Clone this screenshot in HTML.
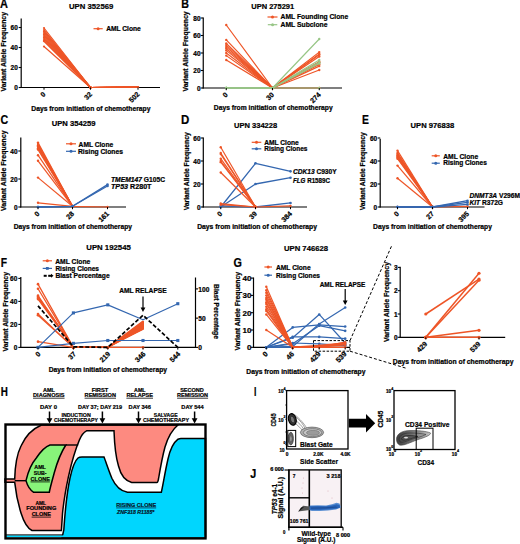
<!DOCTYPE html><html><head><meta charset="utf-8"><style>html,body{margin:0;padding:0;background:#fff;width:520px;height:544px;overflow:hidden;}svg{display:block;}text{font-family:"Liberation Sans", sans-serif;stroke:#000;stroke-width:0.22px;}</style></head><body>
<svg width="520" height="544" viewBox="0 0 520 544">
<rect width="520" height="544" fill="#fff"/>
<text x="0.00" y="8.30" font-size="12.5" font-weight="bold" fill="#000" textLength="7.90" lengthAdjust="spacingAndGlyphs" >A</text>
<text x="69.00" y="9.00" font-size="8" font-weight="bold" fill="#000" textLength="44.30" lengthAdjust="spacingAndGlyphs" >UPN 352569</text>
<text x="4.00" y="54.06" font-size="6.6" font-weight="bold" text-anchor="middle" textLength="79.50" lengthAdjust="spacingAndGlyphs" transform="rotate(-90 4.00 51.75)">Variant  Allele Frequency</text>
<line x1="21.20" y1="18.50" x2="21.20" y2="88.10" stroke="#000" stroke-width="1.2" />
<line x1="20.60" y1="87.50" x2="160.00" y2="87.50" stroke="#000" stroke-width="1.2" />
<line x1="18.70" y1="27.50" x2="21.20" y2="27.50" stroke="#000" stroke-width="1.08" />
<text x="17.80" y="30.04" font-size="6.5" font-weight="bold" fill="#000" text-anchor="end">60</text>
<line x1="18.70" y1="47.50" x2="21.20" y2="47.50" stroke="#000" stroke-width="1.08" />
<text x="17.80" y="50.04" font-size="6.5" font-weight="bold" fill="#000" text-anchor="end">40</text>
<line x1="18.70" y1="67.50" x2="21.20" y2="67.50" stroke="#000" stroke-width="1.08" />
<text x="17.80" y="70.04" font-size="6.5" font-weight="bold" fill="#000" text-anchor="end">20</text>
<line x1="18.70" y1="87.50" x2="21.20" y2="87.50" stroke="#000" stroke-width="1.08" />
<text x="17.80" y="90.04" font-size="6.5" font-weight="bold" fill="#000" text-anchor="end">0</text>
<polyline points="44.00,28.00 90.50,87.50 138.00,87.00" fill="none" stroke="#EE5527" stroke-width="1.2" stroke-linejoin="round" />
<circle cx="44.00" cy="28.00" r="1.1" fill="#EE5527"/>
<circle cx="90.50" cy="87.50" r="1.1" fill="#EE5527"/>
<circle cx="138.00" cy="87.00" r="1.1" fill="#EE5527"/>
<polyline points="44.00,30.00 90.50,87.50 138.00,87.00" fill="none" stroke="#EE5527" stroke-width="1.2" stroke-linejoin="round" />
<circle cx="44.00" cy="30.00" r="1.1" fill="#EE5527"/>
<circle cx="90.50" cy="87.50" r="1.1" fill="#EE5527"/>
<circle cx="138.00" cy="87.00" r="1.1" fill="#EE5527"/>
<polyline points="44.00,31.50 90.50,87.50 138.00,87.00" fill="none" stroke="#EE5527" stroke-width="1.2" stroke-linejoin="round" />
<circle cx="44.00" cy="31.50" r="1.1" fill="#EE5527"/>
<circle cx="90.50" cy="87.50" r="1.1" fill="#EE5527"/>
<circle cx="138.00" cy="87.00" r="1.1" fill="#EE5527"/>
<polyline points="44.00,33.00 90.50,87.50 138.00,87.00" fill="none" stroke="#EE5527" stroke-width="1.2" stroke-linejoin="round" />
<circle cx="44.00" cy="33.00" r="1.1" fill="#EE5527"/>
<circle cx="90.50" cy="87.50" r="1.1" fill="#EE5527"/>
<circle cx="138.00" cy="87.00" r="1.1" fill="#EE5527"/>
<polyline points="44.00,34.50 90.50,87.50 138.00,87.00" fill="none" stroke="#EE5527" stroke-width="1.2" stroke-linejoin="round" />
<circle cx="44.00" cy="34.50" r="1.1" fill="#EE5527"/>
<circle cx="90.50" cy="87.50" r="1.1" fill="#EE5527"/>
<circle cx="138.00" cy="87.00" r="1.1" fill="#EE5527"/>
<polyline points="44.00,36.00 90.50,87.50 138.00,87.00" fill="none" stroke="#EE5527" stroke-width="1.2" stroke-linejoin="round" />
<circle cx="44.00" cy="36.00" r="1.1" fill="#EE5527"/>
<circle cx="90.50" cy="87.50" r="1.1" fill="#EE5527"/>
<circle cx="138.00" cy="87.00" r="1.1" fill="#EE5527"/>
<polyline points="44.00,37.50 90.50,87.50 138.00,87.00" fill="none" stroke="#EE5527" stroke-width="1.2" stroke-linejoin="round" />
<circle cx="44.00" cy="37.50" r="1.1" fill="#EE5527"/>
<circle cx="90.50" cy="87.50" r="1.1" fill="#EE5527"/>
<circle cx="138.00" cy="87.00" r="1.1" fill="#EE5527"/>
<polyline points="44.00,39.00 90.50,87.50 138.00,87.00" fill="none" stroke="#EE5527" stroke-width="1.2" stroke-linejoin="round" />
<circle cx="44.00" cy="39.00" r="1.1" fill="#EE5527"/>
<circle cx="90.50" cy="87.50" r="1.1" fill="#EE5527"/>
<circle cx="138.00" cy="87.00" r="1.1" fill="#EE5527"/>
<polyline points="44.00,40.50 90.50,87.50 138.00,87.00" fill="none" stroke="#EE5527" stroke-width="1.2" stroke-linejoin="round" />
<circle cx="44.00" cy="40.50" r="1.1" fill="#EE5527"/>
<circle cx="90.50" cy="87.50" r="1.1" fill="#EE5527"/>
<circle cx="138.00" cy="87.00" r="1.1" fill="#EE5527"/>
<polyline points="44.00,41.20 90.50,87.50 138.00,87.00" fill="none" stroke="#EE5527" stroke-width="1.2" stroke-linejoin="round" />
<circle cx="44.00" cy="41.20" r="1.1" fill="#EE5527"/>
<circle cx="90.50" cy="87.50" r="1.1" fill="#EE5527"/>
<circle cx="138.00" cy="87.00" r="1.1" fill="#EE5527"/>
<polyline points="44.00,46.50 90.50,87.50 138.00,87.00" fill="none" stroke="#EE5527" stroke-width="1.2" stroke-linejoin="round" />
<circle cx="44.00" cy="46.50" r="1.1" fill="#EE5527"/>
<circle cx="90.50" cy="87.50" r="1.1" fill="#EE5527"/>
<circle cx="138.00" cy="87.00" r="1.1" fill="#EE5527"/>
<text x="46.00" y="94.70" font-size="7" font-weight="bold" text-anchor="end" transform="rotate(-45 46.00 94.70)">0</text>
<line x1="44.00" y1="87.50" x2="44.00" y2="89.70" stroke="#000" stroke-width="1" />
<text x="92.50" y="94.70" font-size="7" font-weight="bold" text-anchor="end" transform="rotate(-45 92.50 94.70)">32</text>
<line x1="90.50" y1="87.50" x2="90.50" y2="89.70" stroke="#000" stroke-width="1" />
<text x="140.00" y="94.70" font-size="7" font-weight="bold" text-anchor="end" transform="rotate(-45 140.00 94.70)">502</text>
<line x1="138.00" y1="87.50" x2="138.00" y2="89.70" stroke="#000" stroke-width="1" />
<text x="31.30" y="110.50" font-size="6.6" font-weight="bold" fill="#000" textLength="119.20" lengthAdjust="spacingAndGlyphs" >Days from initiation of chemotherapy</text>
<line x1="93.50" y1="28.70" x2="102.70" y2="28.70" stroke="#EE5527" stroke-width="1.2" />
<circle cx="98.10" cy="28.70" r="1.5" fill="#EE5527"/>
<text x="106.20" y="31.30" font-size="6.8" font-weight="bold" fill="#000" textLength="34.60" lengthAdjust="spacingAndGlyphs" >AML Clone</text>
<text x="181.30" y="8.40" font-size="12.5" font-weight="bold" fill="#000" textLength="7.70" lengthAdjust="spacingAndGlyphs" >B</text>
<text x="251.30" y="9.00" font-size="8" font-weight="bold" fill="#000" textLength="42.90" lengthAdjust="spacingAndGlyphs" >UPN 275291</text>
<text x="186.10" y="53.71" font-size="6.6" font-weight="bold" text-anchor="middle" textLength="80.20" lengthAdjust="spacingAndGlyphs" transform="rotate(-90 186.10 51.40)">Variant  Allele Frequency</text>
<line x1="203.25" y1="17.50" x2="203.25" y2="88.60" stroke="#000" stroke-width="1.2" />
<line x1="202.65" y1="88.00" x2="342.00" y2="88.00" stroke="#000" stroke-width="1.2" />
<line x1="200.75" y1="18.00" x2="203.25" y2="18.00" stroke="#000" stroke-width="1.08" />
<text x="200.50" y="20.54" font-size="6.5" font-weight="bold" fill="#000" text-anchor="end">80</text>
<line x1="200.75" y1="35.50" x2="203.25" y2="35.50" stroke="#000" stroke-width="1.08" />
<text x="200.50" y="38.04" font-size="6.5" font-weight="bold" fill="#000" text-anchor="end">60</text>
<line x1="200.75" y1="53.00" x2="203.25" y2="53.00" stroke="#000" stroke-width="1.08" />
<text x="200.50" y="55.54" font-size="6.5" font-weight="bold" fill="#000" text-anchor="end">40</text>
<line x1="200.75" y1="70.50" x2="203.25" y2="70.50" stroke="#000" stroke-width="1.08" />
<text x="200.50" y="73.04" font-size="6.5" font-weight="bold" fill="#000" text-anchor="end">20</text>
<line x1="200.75" y1="88.00" x2="203.25" y2="88.00" stroke="#000" stroke-width="1.08" />
<text x="200.50" y="90.54" font-size="6.5" font-weight="bold" fill="#000" text-anchor="end">0</text>
<polyline points="226.25,25.00 272.50,88.00 319.25,52.12" fill="none" stroke="#EE5527" stroke-width="1.2" stroke-linejoin="round" />
<circle cx="226.25" cy="25.00" r="1.2" fill="#EE5527"/>
<circle cx="272.50" cy="88.00" r="1.2" fill="#EE5527"/>
<circle cx="319.25" cy="52.12" r="1.2" fill="#EE5527"/>
<polyline points="226.25,39.88 272.50,88.00 319.25,53.88" fill="none" stroke="#EE5527" stroke-width="1.2" stroke-linejoin="round" />
<circle cx="226.25" cy="39.88" r="1.2" fill="#EE5527"/>
<circle cx="272.50" cy="88.00" r="1.2" fill="#EE5527"/>
<circle cx="319.25" cy="53.88" r="1.2" fill="#EE5527"/>
<polyline points="226.25,43.38 272.50,88.00 319.25,54.75" fill="none" stroke="#EE5527" stroke-width="1.2" stroke-linejoin="round" />
<circle cx="226.25" cy="43.38" r="1.2" fill="#EE5527"/>
<circle cx="272.50" cy="88.00" r="1.2" fill="#EE5527"/>
<circle cx="319.25" cy="54.75" r="1.2" fill="#EE5527"/>
<polyline points="226.25,45.12 272.50,88.00 319.25,56.50" fill="none" stroke="#EE5527" stroke-width="1.2" stroke-linejoin="round" />
<circle cx="226.25" cy="45.12" r="1.2" fill="#EE5527"/>
<circle cx="272.50" cy="88.00" r="1.2" fill="#EE5527"/>
<circle cx="319.25" cy="56.50" r="1.2" fill="#EE5527"/>
<polyline points="226.25,46.88 272.50,88.00 319.25,61.75" fill="none" stroke="#EE5527" stroke-width="1.2" stroke-linejoin="round" />
<circle cx="226.25" cy="46.88" r="1.2" fill="#EE5527"/>
<circle cx="272.50" cy="88.00" r="1.2" fill="#EE5527"/>
<circle cx="319.25" cy="61.75" r="1.2" fill="#EE5527"/>
<polyline points="226.25,48.62 272.50,88.00 319.25,62.62" fill="none" stroke="#EE5527" stroke-width="1.2" stroke-linejoin="round" />
<circle cx="226.25" cy="48.62" r="1.2" fill="#EE5527"/>
<circle cx="272.50" cy="88.00" r="1.2" fill="#EE5527"/>
<circle cx="319.25" cy="62.62" r="1.2" fill="#EE5527"/>
<polyline points="226.25,50.38 272.50,88.00 319.25,64.38" fill="none" stroke="#EE5527" stroke-width="1.2" stroke-linejoin="round" />
<circle cx="226.25" cy="50.38" r="1.2" fill="#EE5527"/>
<circle cx="272.50" cy="88.00" r="1.2" fill="#EE5527"/>
<circle cx="319.25" cy="64.38" r="1.2" fill="#EE5527"/>
<polyline points="226.25,53.00 272.50,88.00 319.25,66.12" fill="none" stroke="#EE5527" stroke-width="1.2" stroke-linejoin="round" />
<circle cx="226.25" cy="53.00" r="1.2" fill="#EE5527"/>
<circle cx="272.50" cy="88.00" r="1.2" fill="#EE5527"/>
<circle cx="319.25" cy="66.12" r="1.2" fill="#EE5527"/>
<polyline points="226.25,55.62 272.50,88.00 319.25,70.06" fill="none" stroke="#EE5527" stroke-width="1.2" stroke-linejoin="round" />
<circle cx="226.25" cy="55.62" r="1.2" fill="#EE5527"/>
<circle cx="272.50" cy="88.00" r="1.2" fill="#EE5527"/>
<circle cx="319.25" cy="70.06" r="1.2" fill="#EE5527"/>
<polyline points="226.25,60.00 272.50,88.00 319.25,88.00" fill="none" stroke="#EE5527" stroke-width="1.2" stroke-linejoin="round" />
<circle cx="226.25" cy="60.00" r="1.2" fill="#EE5527"/>
<circle cx="272.50" cy="88.00" r="1.2" fill="#EE5527"/>
<circle cx="319.25" cy="88.00" r="1.2" fill="#EE5527"/>
<polyline points="226.25,88.00 272.50,88.00 319.25,39.00" fill="none" stroke="#98C687" stroke-width="1.2" stroke-linejoin="round" />
<circle cx="226.25" cy="88.00" r="1.2" fill="#98C687"/>
<circle cx="272.50" cy="88.00" r="1.2" fill="#98C687"/>
<circle cx="319.25" cy="39.00" r="1.2" fill="#98C687"/>
<polyline points="226.25,88.00 272.50,88.00 319.25,60.00" fill="none" stroke="#98C687" stroke-width="1.2" stroke-linejoin="round" />
<circle cx="226.25" cy="88.00" r="1.2" fill="#98C687"/>
<circle cx="272.50" cy="88.00" r="1.2" fill="#98C687"/>
<circle cx="319.25" cy="60.00" r="1.2" fill="#98C687"/>
<polyline points="226.25,88.00 272.50,88.00 319.25,62.19" fill="none" stroke="#98C687" stroke-width="1.2" stroke-linejoin="round" />
<circle cx="226.25" cy="88.00" r="1.2" fill="#98C687"/>
<circle cx="272.50" cy="88.00" r="1.2" fill="#98C687"/>
<circle cx="319.25" cy="62.19" r="1.2" fill="#98C687"/>
<polyline points="226.25,88.00 272.50,88.00 319.25,63.50" fill="none" stroke="#98C687" stroke-width="1.2" stroke-linejoin="round" />
<circle cx="226.25" cy="88.00" r="1.2" fill="#98C687"/>
<circle cx="272.50" cy="88.00" r="1.2" fill="#98C687"/>
<circle cx="319.25" cy="63.50" r="1.2" fill="#98C687"/>
<polyline points="226.25,88.00 272.50,88.00 319.25,88.00" fill="none" stroke="#98C687" stroke-width="1.2" stroke-linejoin="round" />
<circle cx="226.25" cy="88.00" r="1.2" fill="#98C687"/>
<circle cx="272.50" cy="88.00" r="1.2" fill="#98C687"/>
<circle cx="319.25" cy="88.00" r="1.2" fill="#98C687"/>
<text x="228.25" y="95.20" font-size="7" font-weight="bold" text-anchor="end" transform="rotate(-45 228.25 95.20)">0</text>
<line x1="226.25" y1="88.00" x2="226.25" y2="90.20" stroke="#000" stroke-width="1" />
<text x="274.50" y="95.20" font-size="7" font-weight="bold" text-anchor="end" transform="rotate(-45 274.50 95.20)">30</text>
<line x1="272.50" y1="88.00" x2="272.50" y2="90.20" stroke="#000" stroke-width="1" />
<text x="321.25" y="95.20" font-size="7" font-weight="bold" text-anchor="end" transform="rotate(-45 321.25 95.20)">274</text>
<line x1="319.25" y1="88.00" x2="319.25" y2="90.20" stroke="#000" stroke-width="1" />
<text x="213.80" y="109.80" font-size="6.6" font-weight="bold" fill="#000" textLength="118.90" lengthAdjust="spacingAndGlyphs" >Days from initiation of chemotherapy</text>
<line x1="267.50" y1="17.00" x2="277.50" y2="17.00" stroke="#EE5527" stroke-width="1.2" />
<circle cx="272.50" cy="17.00" r="1.5" fill="#EE5527"/>
<text x="280.60" y="19.00" font-size="7" font-weight="bold" fill="#000" textLength="67.60" lengthAdjust="spacingAndGlyphs" >AML Founding Clone</text>
<line x1="267.80" y1="24.70" x2="277.30" y2="24.70" stroke="#98C687" stroke-width="1.2" />
<circle cx="272.55" cy="24.70" r="1.5" fill="#98C687"/>
<text x="280.60" y="26.80" font-size="7" font-weight="bold" fill="#000" textLength="46.90" lengthAdjust="spacingAndGlyphs" >AML Subclone</text>
<text x="0.60" y="124.30" font-size="12.5" font-weight="bold" fill="#000" textLength="7.70" lengthAdjust="spacingAndGlyphs" >C</text>
<text x="51.70" y="126.00" font-size="8" font-weight="bold" fill="#000" textLength="43.80" lengthAdjust="spacingAndGlyphs" >UPN 354259</text>
<text x="3.90" y="173.06" font-size="6.6" font-weight="bold" text-anchor="middle" textLength="80.50" lengthAdjust="spacingAndGlyphs" transform="rotate(-90 3.90 170.75)">Variant  Allele Frequency</text>
<line x1="20.80" y1="137.50" x2="20.80" y2="207.60" stroke="#000" stroke-width="1.2" />
<line x1="20.20" y1="207.00" x2="126.00" y2="207.00" stroke="#000" stroke-width="1.2" />
<line x1="18.30" y1="151.00" x2="20.80" y2="151.00" stroke="#000" stroke-width="1.08" />
<text x="17.60" y="153.54" font-size="6.5" font-weight="bold" fill="#000" text-anchor="end">40</text>
<line x1="18.30" y1="179.00" x2="20.80" y2="179.00" stroke="#000" stroke-width="1.08" />
<text x="17.60" y="181.54" font-size="6.5" font-weight="bold" fill="#000" text-anchor="end">20</text>
<line x1="18.30" y1="207.00" x2="20.80" y2="207.00" stroke="#000" stroke-width="1.08" />
<text x="17.60" y="209.54" font-size="6.5" font-weight="bold" fill="#000" text-anchor="end">0</text>
<polyline points="38.00,142.60 72.50,206.30" fill="none" stroke="#EE5527" stroke-width="1.2" stroke-linejoin="round" />
<circle cx="38.00" cy="142.60" r="1.2" fill="#EE5527"/>
<circle cx="72.50" cy="206.30" r="1.2" fill="#EE5527"/>
<polyline points="38.00,144.00 72.50,206.30" fill="none" stroke="#EE5527" stroke-width="1.2" stroke-linejoin="round" />
<circle cx="38.00" cy="144.00" r="1.2" fill="#EE5527"/>
<circle cx="72.50" cy="206.30" r="1.2" fill="#EE5527"/>
<polyline points="38.00,145.40 72.50,206.30" fill="none" stroke="#EE5527" stroke-width="1.2" stroke-linejoin="round" />
<circle cx="38.00" cy="145.40" r="1.2" fill="#EE5527"/>
<circle cx="72.50" cy="206.30" r="1.2" fill="#EE5527"/>
<polyline points="38.00,146.10 72.50,206.30" fill="none" stroke="#EE5527" stroke-width="1.2" stroke-linejoin="round" />
<circle cx="38.00" cy="146.10" r="1.2" fill="#EE5527"/>
<circle cx="72.50" cy="206.30" r="1.2" fill="#EE5527"/>
<polyline points="38.00,146.80 72.50,206.30" fill="none" stroke="#EE5527" stroke-width="1.2" stroke-linejoin="round" />
<circle cx="38.00" cy="146.80" r="1.2" fill="#EE5527"/>
<circle cx="72.50" cy="206.30" r="1.2" fill="#EE5527"/>
<polyline points="38.00,148.20 72.50,206.30" fill="none" stroke="#EE5527" stroke-width="1.2" stroke-linejoin="round" />
<circle cx="38.00" cy="148.20" r="1.2" fill="#EE5527"/>
<circle cx="72.50" cy="206.30" r="1.2" fill="#EE5527"/>
<polyline points="38.00,149.60 72.50,206.30" fill="none" stroke="#EE5527" stroke-width="1.2" stroke-linejoin="round" />
<circle cx="38.00" cy="149.60" r="1.2" fill="#EE5527"/>
<circle cx="72.50" cy="206.30" r="1.2" fill="#EE5527"/>
<polyline points="38.00,155.20 72.50,206.30" fill="none" stroke="#EE5527" stroke-width="1.2" stroke-linejoin="round" />
<circle cx="38.00" cy="155.20" r="1.2" fill="#EE5527"/>
<circle cx="72.50" cy="206.30" r="1.2" fill="#EE5527"/>
<polyline points="38.00,160.80 72.50,206.30" fill="none" stroke="#EE5527" stroke-width="1.2" stroke-linejoin="round" />
<circle cx="38.00" cy="160.80" r="1.2" fill="#EE5527"/>
<circle cx="72.50" cy="206.30" r="1.2" fill="#EE5527"/>
<polyline points="38.00,177.60 72.50,206.30" fill="none" stroke="#EE5527" stroke-width="1.2" stroke-linejoin="round" />
<circle cx="38.00" cy="177.60" r="1.2" fill="#EE5527"/>
<circle cx="72.50" cy="206.30" r="1.2" fill="#EE5527"/>
<polyline points="38.00,202.80 72.50,206.30 107.50,207.00" fill="none" stroke="#EE5527" stroke-width="1.2" stroke-linejoin="round" />
<circle cx="38.00" cy="202.80" r="1.2" fill="#EE5527"/>
<circle cx="72.50" cy="206.30" r="1.2" fill="#EE5527"/>
<circle cx="107.50" cy="207.00" r="1.2" fill="#EE5527"/>
<polyline points="38.00,207.00 72.50,206.30 107.50,184.60" fill="none" stroke="#3467B0" stroke-width="1.3" stroke-linejoin="round" />
<circle cx="38.00" cy="207.00" r="1.3" fill="#3467B0"/>
<circle cx="72.50" cy="206.30" r="1.3" fill="#3467B0"/>
<circle cx="107.50" cy="184.60" r="1.3" fill="#3467B0"/>
<polyline points="38.00,207.00 72.50,206.30 107.50,186.00" fill="none" stroke="#3467B0" stroke-width="1.3" stroke-linejoin="round" />
<circle cx="38.00" cy="207.00" r="1.3" fill="#3467B0"/>
<circle cx="72.50" cy="206.30" r="1.3" fill="#3467B0"/>
<circle cx="107.50" cy="186.00" r="1.3" fill="#3467B0"/>
<text x="40.00" y="214.20" font-size="7" font-weight="bold" text-anchor="end" transform="rotate(-45 40.00 214.20)">0</text>
<line x1="38.00" y1="207.00" x2="38.00" y2="209.20" stroke="#000" stroke-width="1" />
<text x="74.50" y="214.20" font-size="7" font-weight="bold" text-anchor="end" transform="rotate(-45 74.50 214.20)">28</text>
<line x1="72.50" y1="207.00" x2="72.50" y2="209.20" stroke="#000" stroke-width="1" />
<text x="109.50" y="214.20" font-size="7" font-weight="bold" text-anchor="end" transform="rotate(-45 109.50 214.20)">161</text>
<line x1="107.50" y1="207.00" x2="107.50" y2="209.20" stroke="#000" stroke-width="1" />
<text x="13.70" y="229.40" font-size="6.6" font-weight="bold" fill="#000" textLength="118.30" lengthAdjust="spacingAndGlyphs" >Days from initiation of chemotherapy</text>
<line x1="66.00" y1="143.80" x2="76.00" y2="143.80" stroke="#EE5527" stroke-width="1.2" />
<circle cx="71.00" cy="143.80" r="1.5" fill="#EE5527"/>
<text x="78.60" y="147.00" font-size="6.8" font-weight="bold" fill="#000" textLength="34.60" lengthAdjust="spacingAndGlyphs" >AML Clone</text>
<line x1="66.00" y1="151.30" x2="76.00" y2="151.30" stroke="#3467B0" stroke-width="1.2" />
<circle cx="71.00" cy="151.30" r="1.5" fill="#3467B0"/>
<text x="78.00" y="153.80" font-size="6.8" font-weight="bold" fill="#000" textLength="45.00" lengthAdjust="spacingAndGlyphs" >Rising Clones</text>
<text x="111" y="182.2" font-size="6.8" font-weight="bold" textLength="54" lengthAdjust="spacingAndGlyphs"><tspan font-style="italic">TMEM147</tspan> G105C</text>
<text x="111" y="189" font-size="6.8" font-weight="bold" textLength="40.5" lengthAdjust="spacingAndGlyphs"><tspan font-style="italic">TP53</tspan>  R280T</text>
<text x="181.00" y="124.20" font-size="12.5" font-weight="bold" fill="#000" textLength="8.30" lengthAdjust="spacingAndGlyphs" >D</text>
<text x="234.00" y="128.00" font-size="8" font-weight="bold" fill="#000" textLength="43.20" lengthAdjust="spacingAndGlyphs" >UPN 334228</text>
<text x="186.30" y="173.61" font-size="6.6" font-weight="bold" text-anchor="middle" textLength="78.00" lengthAdjust="spacingAndGlyphs" transform="rotate(-90 186.30 171.30)">Variant Allele Frequency</text>
<line x1="203.30" y1="137.50" x2="203.30" y2="207.60" stroke="#000" stroke-width="1.2" />
<line x1="202.70" y1="207.00" x2="307.00" y2="207.00" stroke="#000" stroke-width="1.2" />
<line x1="200.80" y1="138.00" x2="203.30" y2="138.00" stroke="#000" stroke-width="1.08" />
<text x="200.50" y="140.54" font-size="6.5" font-weight="bold" fill="#000" text-anchor="end">60</text>
<line x1="200.80" y1="161.00" x2="203.30" y2="161.00" stroke="#000" stroke-width="1.08" />
<text x="200.50" y="163.54" font-size="6.5" font-weight="bold" fill="#000" text-anchor="end">40</text>
<line x1="200.80" y1="184.00" x2="203.30" y2="184.00" stroke="#000" stroke-width="1.08" />
<text x="200.50" y="186.54" font-size="6.5" font-weight="bold" fill="#000" text-anchor="end">20</text>
<line x1="200.80" y1="207.00" x2="203.30" y2="207.00" stroke="#000" stroke-width="1.08" />
<text x="200.50" y="209.54" font-size="6.5" font-weight="bold" fill="#000" text-anchor="end">0</text>
<polyline points="220.75,207.00 255.50,163.30 290.50,171.35" fill="none" stroke="#3467B0" stroke-width="1.3" stroke-linejoin="round" />
<circle cx="220.75" cy="207.00" r="1.3" fill="#3467B0"/>
<circle cx="255.50" cy="163.30" r="1.3" fill="#3467B0"/>
<circle cx="290.50" cy="171.35" r="1.3" fill="#3467B0"/>
<polyline points="220.75,207.00 255.50,184.00 290.50,177.68" fill="none" stroke="#3467B0" stroke-width="1.3" stroke-linejoin="round" />
<circle cx="220.75" cy="207.00" r="1.3" fill="#3467B0"/>
<circle cx="255.50" cy="184.00" r="1.3" fill="#3467B0"/>
<circle cx="290.50" cy="177.68" r="1.3" fill="#3467B0"/>
<polyline points="220.75,205.85 255.50,207.00 290.50,202.97" fill="none" stroke="#3467B0" stroke-width="1.3" stroke-linejoin="round" />
<circle cx="220.75" cy="205.85" r="1.3" fill="#3467B0"/>
<circle cx="255.50" cy="207.00" r="1.3" fill="#3467B0"/>
<circle cx="290.50" cy="202.97" r="1.3" fill="#3467B0"/>
<polyline points="220.75,147.20 255.50,207.00" fill="none" stroke="#EE5527" stroke-width="1.2" stroke-linejoin="round" />
<circle cx="220.75" cy="147.20" r="1.2" fill="#EE5527"/>
<circle cx="255.50" cy="207.00" r="1.2" fill="#EE5527"/>
<polyline points="220.75,152.95 255.50,207.00" fill="none" stroke="#EE5527" stroke-width="1.2" stroke-linejoin="round" />
<circle cx="220.75" cy="152.95" r="1.2" fill="#EE5527"/>
<circle cx="255.50" cy="207.00" r="1.2" fill="#EE5527"/>
<polyline points="220.75,154.10 255.50,207.00" fill="none" stroke="#EE5527" stroke-width="1.2" stroke-linejoin="round" />
<circle cx="220.75" cy="154.10" r="1.2" fill="#EE5527"/>
<circle cx="255.50" cy="207.00" r="1.2" fill="#EE5527"/>
<polyline points="220.75,158.70 255.50,207.00" fill="none" stroke="#EE5527" stroke-width="1.2" stroke-linejoin="round" />
<circle cx="220.75" cy="158.70" r="1.2" fill="#EE5527"/>
<circle cx="255.50" cy="207.00" r="1.2" fill="#EE5527"/>
<polyline points="220.75,161.00 255.50,207.00" fill="none" stroke="#EE5527" stroke-width="1.2" stroke-linejoin="round" />
<circle cx="220.75" cy="161.00" r="1.2" fill="#EE5527"/>
<circle cx="255.50" cy="207.00" r="1.2" fill="#EE5527"/>
<polyline points="220.75,162.15 255.50,207.00" fill="none" stroke="#EE5527" stroke-width="1.2" stroke-linejoin="round" />
<circle cx="220.75" cy="162.15" r="1.2" fill="#EE5527"/>
<circle cx="255.50" cy="207.00" r="1.2" fill="#EE5527"/>
<polyline points="220.75,172.50 255.50,207.00" fill="none" stroke="#EE5527" stroke-width="1.2" stroke-linejoin="round" />
<circle cx="220.75" cy="172.50" r="1.2" fill="#EE5527"/>
<circle cx="255.50" cy="207.00" r="1.2" fill="#EE5527"/>
<polyline points="220.75,203.55 255.50,207.00 290.50,205.85" fill="none" stroke="#EE5527" stroke-width="1.2" stroke-linejoin="round" />
<circle cx="220.75" cy="203.55" r="1.2" fill="#EE5527"/>
<circle cx="255.50" cy="207.00" r="1.2" fill="#EE5527"/>
<circle cx="290.50" cy="205.85" r="1.2" fill="#EE5527"/>
<polyline points="220.75,204.70 255.50,207.00" fill="none" stroke="#EE5527" stroke-width="1.2" stroke-linejoin="round" />
<circle cx="220.75" cy="204.70" r="1.2" fill="#EE5527"/>
<circle cx="255.50" cy="207.00" r="1.2" fill="#EE5527"/>
<text x="222.75" y="214.20" font-size="7" font-weight="bold" text-anchor="end" transform="rotate(-45 222.75 214.20)">0</text>
<line x1="220.75" y1="207.00" x2="220.75" y2="209.20" stroke="#000" stroke-width="1" />
<text x="257.50" y="214.20" font-size="7" font-weight="bold" text-anchor="end" transform="rotate(-45 257.50 214.20)">39</text>
<line x1="255.50" y1="207.00" x2="255.50" y2="209.20" stroke="#000" stroke-width="1" />
<text x="292.50" y="214.20" font-size="7" font-weight="bold" text-anchor="end" transform="rotate(-45 292.50 214.20)">384</text>
<line x1="290.50" y1="207.00" x2="290.50" y2="209.20" stroke="#000" stroke-width="1" />
<text x="197.20" y="229.40" font-size="6.6" font-weight="bold" fill="#000" textLength="119.80" lengthAdjust="spacingAndGlyphs" >Days from initiation of chemotherapy</text>
<line x1="251.70" y1="142.30" x2="261.30" y2="142.30" stroke="#EE5527" stroke-width="1.2" />
<circle cx="256.50" cy="142.30" r="1.5" fill="#EE5527"/>
<text x="264.20" y="145.00" font-size="6.8" font-weight="bold" fill="#000" textLength="34.60" lengthAdjust="spacingAndGlyphs" >AML Clone</text>
<line x1="251.70" y1="148.80" x2="261.30" y2="148.80" stroke="#3467B0" stroke-width="1.2" />
<circle cx="256.50" cy="148.80" r="1.5" fill="#3467B0"/>
<text x="264.20" y="151.40" font-size="6.8" font-weight="bold" fill="#000" textLength="43.30" lengthAdjust="spacingAndGlyphs" >Rising Clones</text>
<text x="293" y="173.8" font-size="6.8" font-weight="bold" textLength="43.6" lengthAdjust="spacingAndGlyphs"><tspan font-style="italic">CDK13</tspan> C930Y</text>
<text x="293" y="183.2" font-size="6.8" font-weight="bold" textLength="37" lengthAdjust="spacingAndGlyphs"><tspan font-style="italic">FLG</tspan> R1589C</text>
<text x="362.00" y="124.30" font-size="12.5" font-weight="bold" fill="#000" textLength="6.90" lengthAdjust="spacingAndGlyphs" >E</text>
<text x="410.60" y="128.00" font-size="8" font-weight="bold" fill="#000" textLength="43.60" lengthAdjust="spacingAndGlyphs" >UPN 976838</text>
<text x="363.00" y="173.61" font-size="6.6" font-weight="bold" text-anchor="middle" textLength="78.00" lengthAdjust="spacingAndGlyphs" transform="rotate(-90 363.00 171.30)">Variant Allele Frequency</text>
<line x1="380.20" y1="138.75" x2="380.20" y2="207.60" stroke="#000" stroke-width="1.2" />
<line x1="379.60" y1="207.00" x2="484.50" y2="207.00" stroke="#000" stroke-width="1.2" />
<line x1="377.70" y1="138.00" x2="380.20" y2="138.00" stroke="#000" stroke-width="1.08" />
<text x="377.20" y="140.54" font-size="6.5" font-weight="bold" fill="#000" text-anchor="end">60</text>
<line x1="377.70" y1="161.00" x2="380.20" y2="161.00" stroke="#000" stroke-width="1.08" />
<text x="377.20" y="163.54" font-size="6.5" font-weight="bold" fill="#000" text-anchor="end">40</text>
<line x1="377.70" y1="184.00" x2="380.20" y2="184.00" stroke="#000" stroke-width="1.08" />
<text x="377.20" y="186.54" font-size="6.5" font-weight="bold" fill="#000" text-anchor="end">20</text>
<line x1="377.70" y1="207.00" x2="380.20" y2="207.00" stroke="#000" stroke-width="1.08" />
<text x="377.20" y="209.54" font-size="6.5" font-weight="bold" fill="#000" text-anchor="end">0</text>
<polyline points="397.50,150.65 432.50,207.00" fill="none" stroke="#EE5527" stroke-width="1.2" stroke-linejoin="round" />
<circle cx="397.50" cy="150.65" r="1.2" fill="#EE5527"/>
<circle cx="432.50" cy="207.00" r="1.2" fill="#EE5527"/>
<polyline points="397.50,152.95 432.50,207.00" fill="none" stroke="#EE5527" stroke-width="1.2" stroke-linejoin="round" />
<circle cx="397.50" cy="152.95" r="1.2" fill="#EE5527"/>
<circle cx="432.50" cy="207.00" r="1.2" fill="#EE5527"/>
<polyline points="397.50,154.10 432.50,207.00" fill="none" stroke="#EE5527" stroke-width="1.2" stroke-linejoin="round" />
<circle cx="397.50" cy="154.10" r="1.2" fill="#EE5527"/>
<circle cx="432.50" cy="207.00" r="1.2" fill="#EE5527"/>
<polyline points="397.50,155.25 432.50,207.00" fill="none" stroke="#EE5527" stroke-width="1.2" stroke-linejoin="round" />
<circle cx="397.50" cy="155.25" r="1.2" fill="#EE5527"/>
<circle cx="432.50" cy="207.00" r="1.2" fill="#EE5527"/>
<polyline points="397.50,156.40 432.50,207.00" fill="none" stroke="#EE5527" stroke-width="1.2" stroke-linejoin="round" />
<circle cx="397.50" cy="156.40" r="1.2" fill="#EE5527"/>
<circle cx="432.50" cy="207.00" r="1.2" fill="#EE5527"/>
<polyline points="397.50,157.55 432.50,207.00" fill="none" stroke="#EE5527" stroke-width="1.2" stroke-linejoin="round" />
<circle cx="397.50" cy="157.55" r="1.2" fill="#EE5527"/>
<circle cx="432.50" cy="207.00" r="1.2" fill="#EE5527"/>
<polyline points="397.50,158.70 432.50,207.00" fill="none" stroke="#EE5527" stroke-width="1.2" stroke-linejoin="round" />
<circle cx="397.50" cy="158.70" r="1.2" fill="#EE5527"/>
<circle cx="432.50" cy="207.00" r="1.2" fill="#EE5527"/>
<polyline points="397.50,165.60 432.50,207.00" fill="none" stroke="#EE5527" stroke-width="1.2" stroke-linejoin="round" />
<circle cx="397.50" cy="165.60" r="1.2" fill="#EE5527"/>
<circle cx="432.50" cy="207.00" r="1.2" fill="#EE5527"/>
<polyline points="397.50,178.25 432.50,207.00" fill="none" stroke="#EE5527" stroke-width="1.2" stroke-linejoin="round" />
<circle cx="397.50" cy="178.25" r="1.2" fill="#EE5527"/>
<circle cx="432.50" cy="207.00" r="1.2" fill="#EE5527"/>
<polyline points="397.50,207.00 432.50,207.00 467.50,206.43" fill="none" stroke="#EE5527" stroke-width="1.2" stroke-linejoin="round" />
<circle cx="397.50" cy="207.00" r="1.2" fill="#EE5527"/>
<circle cx="432.50" cy="207.00" r="1.2" fill="#EE5527"/>
<circle cx="467.50" cy="206.43" r="1.2" fill="#EE5527"/>
<polyline points="397.50,207.00 432.50,207.00 467.50,200.68" fill="none" stroke="#3467B0" stroke-width="1.3" stroke-linejoin="round" />
<circle cx="397.50" cy="207.00" r="1.3" fill="#3467B0"/>
<circle cx="432.50" cy="207.00" r="1.3" fill="#3467B0"/>
<circle cx="467.50" cy="200.68" r="1.3" fill="#3467B0"/>
<polyline points="397.50,207.00 432.50,207.00 467.50,202.40" fill="none" stroke="#3467B0" stroke-width="1.3" stroke-linejoin="round" />
<circle cx="397.50" cy="207.00" r="1.3" fill="#3467B0"/>
<circle cx="432.50" cy="207.00" r="1.3" fill="#3467B0"/>
<circle cx="467.50" cy="202.40" r="1.3" fill="#3467B0"/>
<polyline points="397.50,207.00 432.50,207.00 467.50,204.47" fill="none" stroke="#3467B0" stroke-width="1.3" stroke-linejoin="round" />
<circle cx="397.50" cy="207.00" r="1.3" fill="#3467B0"/>
<circle cx="432.50" cy="207.00" r="1.3" fill="#3467B0"/>
<circle cx="467.50" cy="204.47" r="1.3" fill="#3467B0"/>
<text x="399.50" y="214.20" font-size="7" font-weight="bold" text-anchor="end" transform="rotate(-45 399.50 214.20)">0</text>
<line x1="397.50" y1="207.00" x2="397.50" y2="209.20" stroke="#000" stroke-width="1" />
<text x="434.50" y="214.20" font-size="7" font-weight="bold" text-anchor="end" transform="rotate(-45 434.50 214.20)">27</text>
<line x1="432.50" y1="207.00" x2="432.50" y2="209.20" stroke="#000" stroke-width="1" />
<text x="469.50" y="214.20" font-size="7" font-weight="bold" text-anchor="end" transform="rotate(-45 469.50 214.20)">395</text>
<line x1="467.50" y1="207.00" x2="467.50" y2="209.20" stroke="#000" stroke-width="1" />
<text x="373.10" y="229.40" font-size="6.6" font-weight="bold" fill="#000" textLength="118.80" lengthAdjust="spacingAndGlyphs" >Days from initiation of chemotherapy</text>
<line x1="431.70" y1="155.80" x2="439.80" y2="155.80" stroke="#EE5527" stroke-width="1.2" />
<circle cx="435.75" cy="155.80" r="1.5" fill="#EE5527"/>
<text x="443.20" y="158.60" font-size="6.8" font-weight="bold" fill="#000" textLength="35.00" lengthAdjust="spacingAndGlyphs" >AML Clone</text>
<line x1="431.70" y1="163.20" x2="439.80" y2="163.20" stroke="#3467B0" stroke-width="1.2" />
<circle cx="435.75" cy="163.20" r="1.5" fill="#3467B0"/>
<text x="443.20" y="165.40" font-size="6.8" font-weight="bold" fill="#000" textLength="43.70" lengthAdjust="spacingAndGlyphs" >Rising Clones</text>
<text x="469.5" y="197.5" font-size="6.8" font-weight="bold" textLength="50.5" lengthAdjust="spacingAndGlyphs"><tspan font-style="italic">DNMT3A</tspan> V296M</text>
<text x="469.5" y="205.1" font-size="6.8" font-weight="bold" textLength="33.5" lengthAdjust="spacingAndGlyphs"><tspan font-style="italic">KIT</tspan> R372G</text>
<text x="0.80" y="266.80" font-size="12.5" font-weight="bold" fill="#000" textLength="6.30" lengthAdjust="spacingAndGlyphs" >F</text>
<text x="86.30" y="249.60" font-size="8" font-weight="bold" fill="#000" textLength="44.50" lengthAdjust="spacingAndGlyphs" >UPN 192545</text>
<text x="6.00" y="314.01" font-size="6.6" font-weight="bold" text-anchor="middle" textLength="79.40" lengthAdjust="spacingAndGlyphs" transform="rotate(-90 6.00 311.70)">Variant Allele Frequency</text>
<line x1="20.80" y1="277.00" x2="20.80" y2="348.00" stroke="#000" stroke-width="1.2" />
<line x1="20.20" y1="347.40" x2="196.00" y2="347.40" stroke="#000" stroke-width="1.2" />
<line x1="18.30" y1="278.40" x2="20.80" y2="278.40" stroke="#000" stroke-width="1.08" />
<text x="17.30" y="280.94" font-size="6.5" font-weight="bold" fill="#000" text-anchor="end">60</text>
<line x1="18.30" y1="301.40" x2="20.80" y2="301.40" stroke="#000" stroke-width="1.08" />
<text x="17.30" y="303.94" font-size="6.5" font-weight="bold" fill="#000" text-anchor="end">40</text>
<line x1="18.30" y1="324.40" x2="20.80" y2="324.40" stroke="#000" stroke-width="1.08" />
<text x="17.30" y="326.94" font-size="6.5" font-weight="bold" fill="#000" text-anchor="end">20</text>
<line x1="18.30" y1="347.40" x2="20.80" y2="347.40" stroke="#000" stroke-width="1.08" />
<text x="17.30" y="349.94" font-size="6.5" font-weight="bold" fill="#000" text-anchor="end">0</text>
<polyline points="38.00,284.15 73.40,347.40 107.80,347.40" fill="none" stroke="#EE5527" stroke-width="1.25" stroke-linejoin="round" />
<circle cx="38.00" cy="284.15" r="1.3" fill="#EE5527"/>
<circle cx="73.40" cy="347.40" r="1.3" fill="#EE5527"/>
<circle cx="107.80" cy="347.40" r="1.3" fill="#EE5527"/>
<polyline points="38.00,288.75 73.40,347.40 107.80,347.40" fill="none" stroke="#EE5527" stroke-width="1.25" stroke-linejoin="round" />
<circle cx="38.00" cy="288.75" r="1.3" fill="#EE5527"/>
<circle cx="73.40" cy="347.40" r="1.3" fill="#EE5527"/>
<circle cx="107.80" cy="347.40" r="1.3" fill="#EE5527"/>
<polyline points="38.00,295.65 73.40,347.40 107.80,347.40" fill="none" stroke="#EE5527" stroke-width="1.25" stroke-linejoin="round" />
<circle cx="38.00" cy="295.65" r="1.3" fill="#EE5527"/>
<circle cx="73.40" cy="347.40" r="1.3" fill="#EE5527"/>
<circle cx="107.80" cy="347.40" r="1.3" fill="#EE5527"/>
<polyline points="38.00,296.80 73.40,347.40 107.80,347.40" fill="none" stroke="#EE5527" stroke-width="1.25" stroke-linejoin="round" />
<circle cx="38.00" cy="296.80" r="1.3" fill="#EE5527"/>
<circle cx="73.40" cy="347.40" r="1.3" fill="#EE5527"/>
<circle cx="107.80" cy="347.40" r="1.3" fill="#EE5527"/>
<polyline points="38.00,297.95 73.40,347.40 107.80,347.40" fill="none" stroke="#EE5527" stroke-width="1.25" stroke-linejoin="round" />
<circle cx="38.00" cy="297.95" r="1.3" fill="#EE5527"/>
<circle cx="73.40" cy="347.40" r="1.3" fill="#EE5527"/>
<circle cx="107.80" cy="347.40" r="1.3" fill="#EE5527"/>
<polyline points="38.00,299.10 73.40,347.40 107.80,347.40" fill="none" stroke="#EE5527" stroke-width="1.25" stroke-linejoin="round" />
<circle cx="38.00" cy="299.10" r="1.3" fill="#EE5527"/>
<circle cx="73.40" cy="347.40" r="1.3" fill="#EE5527"/>
<circle cx="107.80" cy="347.40" r="1.3" fill="#EE5527"/>
<polyline points="38.00,314.05 73.40,347.40 107.80,347.40" fill="none" stroke="#EE5527" stroke-width="1.25" stroke-linejoin="round" />
<circle cx="38.00" cy="314.05" r="1.3" fill="#EE5527"/>
<circle cx="73.40" cy="347.40" r="1.3" fill="#EE5527"/>
<circle cx="107.80" cy="347.40" r="1.3" fill="#EE5527"/>
<polyline points="38.00,315.20 73.40,347.40 107.80,347.40" fill="none" stroke="#EE5527" stroke-width="1.25" stroke-linejoin="round" />
<circle cx="38.00" cy="315.20" r="1.3" fill="#EE5527"/>
<circle cx="73.40" cy="347.40" r="1.3" fill="#EE5527"/>
<circle cx="107.80" cy="347.40" r="1.3" fill="#EE5527"/>
<polyline points="38.00,341.65 73.40,347.40 107.80,347.40 143.00,347.40" fill="none" stroke="#EE5527" stroke-width="1.25" stroke-linejoin="round" />
<circle cx="38.00" cy="341.65" r="1.3" fill="#EE5527"/>
<circle cx="73.40" cy="347.40" r="1.3" fill="#EE5527"/>
<circle cx="107.80" cy="347.40" r="1.3" fill="#EE5527"/>
<circle cx="143.00" cy="347.40" r="1.3" fill="#EE5527"/>
<line x1="107.80" y1="347.40" x2="143.00" y2="320.95" stroke="#EE5527" stroke-width="1.3" />
<line x1="107.80" y1="347.40" x2="143.00" y2="322.10" stroke="#EE5527" stroke-width="1.3" />
<line x1="107.80" y1="347.40" x2="143.00" y2="323.25" stroke="#EE5527" stroke-width="1.3" />
<line x1="107.80" y1="347.40" x2="143.00" y2="324.40" stroke="#EE5527" stroke-width="1.3" />
<line x1="107.80" y1="347.40" x2="143.00" y2="325.55" stroke="#EE5527" stroke-width="1.3" />
<line x1="107.80" y1="347.40" x2="143.00" y2="326.70" stroke="#EE5527" stroke-width="1.3" />
<line x1="107.80" y1="347.40" x2="143.00" y2="327.85" stroke="#EE5527" stroke-width="1.3" />
<line x1="107.80" y1="347.40" x2="143.00" y2="329.00" stroke="#EE5527" stroke-width="1.3" />
<polygon points="107.80,347.40 144.00,320.38 144.00,329.57" fill="#EE5527"/>
<polyline points="38.00,347.40 73.40,312.90 107.80,304.85 143.00,319.80 177.80,303.70" fill="none" stroke="#3467B0" stroke-width="1.2" stroke-linejoin="round" />
<rect x="36.45" y="345.85" width="3.1" height="3.1" fill="#3467B0"/>
<rect x="71.85" y="311.35" width="3.1" height="3.1" fill="#3467B0"/>
<rect x="106.25" y="303.30" width="3.1" height="3.1" fill="#3467B0"/>
<rect x="176.25" y="302.15" width="3.1" height="3.1" fill="#3467B0"/>
<polyline points="38.00,347.40 73.40,343.38 107.80,340.50 143.00,340.50 177.80,340.50" fill="none" stroke="#3467B0" stroke-width="1.2" stroke-linejoin="round" />
<rect x="71.85" y="341.82" width="3.1" height="3.1" fill="#3467B0"/>
<rect x="106.25" y="338.95" width="3.1" height="3.1" fill="#3467B0"/>
<rect x="141.45" y="338.95" width="3.1" height="3.1" fill="#3467B0"/>
<rect x="176.25" y="338.95" width="3.1" height="3.1" fill="#3467B0"/>
<polyline points="38.00,305.87 73.40,346.81 107.80,347.40 143.00,315.22 177.80,347.40" fill="none" stroke="#000" stroke-width="1.7" stroke-linejoin="round" stroke-dasharray="4,2"/>
<line x1="195.50" y1="277.50" x2="195.50" y2="347.40" stroke="#000" stroke-width="1.2" />
<line x1="195.50" y1="288.90" x2="198.00" y2="288.90" stroke="#000" stroke-width="1.1" />
<text x="198.3" y="291.90" font-size="6.6" font-weight="bold">100</text>
<line x1="195.50" y1="318.15" x2="198.00" y2="318.15" stroke="#000" stroke-width="1.1" />
<text x="198.3" y="321.15" font-size="6.6" font-weight="bold">50</text>
<line x1="195.50" y1="347.40" x2="198.00" y2="347.40" stroke="#000" stroke-width="1.1" />
<text x="198.3" y="350.40" font-size="6.6" font-weight="bold">0</text>
<text x="216.20" y="313.95" font-size="7" font-weight="bold" text-anchor="middle" textLength="55.00" lengthAdjust="spacingAndGlyphs" transform="rotate(90 216.20 311.50)">Blast Percentage</text>
<text x="41.00" y="354.60" font-size="7" font-weight="bold" text-anchor="end" transform="rotate(-45 41.00 354.60)">0</text>
<line x1="38.00" y1="347.40" x2="38.00" y2="349.60" stroke="#000" stroke-width="1" />
<text x="76.40" y="354.60" font-size="7" font-weight="bold" text-anchor="end" transform="rotate(-45 76.40 354.60)">37</text>
<line x1="73.40" y1="347.40" x2="73.40" y2="349.60" stroke="#000" stroke-width="1" />
<text x="110.80" y="354.60" font-size="7" font-weight="bold" text-anchor="end" transform="rotate(-45 110.80 354.60)">219</text>
<line x1="107.80" y1="347.40" x2="107.80" y2="349.60" stroke="#000" stroke-width="1" />
<text x="146.00" y="354.60" font-size="7" font-weight="bold" text-anchor="end" transform="rotate(-45 146.00 354.60)">346</text>
<line x1="143.00" y1="347.40" x2="143.00" y2="349.60" stroke="#000" stroke-width="1" />
<text x="180.80" y="354.60" font-size="7" font-weight="bold" text-anchor="end" transform="rotate(-45 180.80 354.60)">544</text>
<line x1="177.80" y1="347.40" x2="177.80" y2="349.60" stroke="#000" stroke-width="1" />
<text x="48.70" y="372.20" font-size="6.6" font-weight="bold" fill="#000" textLength="118.30" lengthAdjust="spacingAndGlyphs" >Days from initiation of chemotherapy</text>
<line x1="42.70" y1="260.80" x2="52.00" y2="260.80" stroke="#EE5527" stroke-width="1.2" />
<circle cx="47.35" cy="260.80" r="1.5" fill="#EE5527"/>
<text x="55.20" y="263.60" font-size="6.8" font-weight="bold" fill="#000" textLength="35.10" lengthAdjust="spacingAndGlyphs" >AML Clone</text>
<line x1="42.70" y1="268.40" x2="52.00" y2="268.40" stroke="#3467B0" stroke-width="1.2" />
<rect x="45.95" y="267.00" width="2.8" height="2.8" fill="#3467B0"/>
<text x="55.40" y="270.90" font-size="6.8" font-weight="bold" fill="#000" textLength="43.60" lengthAdjust="spacingAndGlyphs" >Rising Clones</text>
<line x1="43.70" y1="275.80" x2="46.70" y2="275.80" stroke="#000" stroke-width="2.0" />
<line x1="48.20" y1="275.80" x2="52.00" y2="275.80" stroke="#000" stroke-width="2.0" />
<polygon points="51.00,273.80 53.50,275.80 51.00,277.80" fill="#000"/>
<text x="55.40" y="278.30" font-size="6.8" font-weight="bold" fill="#000" textLength="54.20" lengthAdjust="spacingAndGlyphs" >Blast Percentage</text>
<text x="119.20" y="292.60" font-size="6.8" font-weight="bold" fill="#000" textLength="47.50" lengthAdjust="spacingAndGlyphs" >AML RELAPSE</text>
<line x1="143.00" y1="296.50" x2="143.00" y2="309.00" stroke="#000" stroke-width="1.2" />
<polygon points="140.6,307.5 145.4,307.5 143,312" fill="#000"/>
<text x="233.40" y="267.00" font-size="12.5" font-weight="bold" fill="#000" textLength="8.40" lengthAdjust="spacingAndGlyphs" >G</text>
<text x="284.00" y="251.20" font-size="8" font-weight="bold" fill="#000" textLength="44.00" lengthAdjust="spacingAndGlyphs" >UPN 746628</text>
<text x="237.50" y="313.56" font-size="6.6" font-weight="bold" text-anchor="middle" textLength="78.50" lengthAdjust="spacingAndGlyphs" transform="rotate(-90 237.50 311.25)">Variant Allele Frequency</text>
<line x1="253.50" y1="277.50" x2="253.50" y2="347.90" stroke="#000" stroke-width="1.2" />
<line x1="252.90" y1="347.30" x2="350.00" y2="347.30" stroke="#000" stroke-width="1.2" />
<line x1="251.00" y1="278.10" x2="253.50" y2="278.10" stroke="#000" stroke-width="1.08" />
<text x="251.50" y="281.18" font-size="8" font-weight="bold" fill="#000" text-anchor="end">40</text>
<line x1="251.00" y1="295.40" x2="253.50" y2="295.40" stroke="#000" stroke-width="1.08" />
<text x="251.50" y="298.48" font-size="8" font-weight="bold" fill="#000" text-anchor="end">30</text>
<line x1="251.00" y1="312.70" x2="253.50" y2="312.70" stroke="#000" stroke-width="1.08" />
<text x="251.50" y="315.78" font-size="8" font-weight="bold" fill="#000" text-anchor="end">20</text>
<line x1="251.00" y1="330.00" x2="253.50" y2="330.00" stroke="#000" stroke-width="1.08" />
<text x="251.50" y="333.08" font-size="8" font-weight="bold" fill="#000" text-anchor="end">10</text>
<line x1="251.00" y1="347.30" x2="253.50" y2="347.30" stroke="#000" stroke-width="1.08" />
<text x="251.50" y="350.38" font-size="8" font-weight="bold" fill="#000" text-anchor="end">0</text>
<polyline points="266.30,347.30 292.70,327.41 319.20,324.81 345.20,326.54" fill="none" stroke="#3467B0" stroke-width="1.2" stroke-linejoin="round" />
<circle cx="266.30" cy="347.30" r="1.3" fill="#3467B0"/>
<circle cx="292.70" cy="327.41" r="1.3" fill="#3467B0"/>
<circle cx="319.20" cy="324.81" r="1.3" fill="#3467B0"/>
<circle cx="345.20" cy="326.54" r="1.3" fill="#3467B0"/>
<polyline points="266.30,347.30 292.70,337.79 319.20,314.43 345.20,342.98" fill="none" stroke="#3467B0" stroke-width="1.2" stroke-linejoin="round" />
<circle cx="266.30" cy="347.30" r="1.3" fill="#3467B0"/>
<circle cx="292.70" cy="337.79" r="1.3" fill="#3467B0"/>
<circle cx="319.20" cy="314.43" r="1.3" fill="#3467B0"/>
<circle cx="345.20" cy="342.98" r="1.3" fill="#3467B0"/>
<polyline points="266.30,347.30 292.70,346.44 319.20,323.94 345.20,307.51" fill="none" stroke="#3467B0" stroke-width="1.2" stroke-linejoin="round" />
<circle cx="266.30" cy="347.30" r="1.3" fill="#3467B0"/>
<circle cx="292.70" cy="346.44" r="1.3" fill="#3467B0"/>
<circle cx="319.20" cy="323.94" r="1.3" fill="#3467B0"/>
<circle cx="345.20" cy="307.51" r="1.3" fill="#3467B0"/>
<polyline points="266.30,347.30 292.70,336.92 319.20,336.92 345.20,338.65" fill="none" stroke="#3467B0" stroke-width="1.2" stroke-linejoin="round" />
<circle cx="266.30" cy="347.30" r="1.3" fill="#3467B0"/>
<circle cx="292.70" cy="336.92" r="1.3" fill="#3467B0"/>
<circle cx="319.20" cy="336.92" r="1.3" fill="#3467B0"/>
<circle cx="345.20" cy="338.65" r="1.3" fill="#3467B0"/>
<polyline points="266.30,347.30 292.70,343.84 319.20,325.68 345.20,330.87" fill="none" stroke="#3467B0" stroke-width="1.2" stroke-linejoin="round" />
<circle cx="266.30" cy="347.30" r="1.3" fill="#3467B0"/>
<circle cx="292.70" cy="343.84" r="1.3" fill="#3467B0"/>
<circle cx="319.20" cy="325.68" r="1.3" fill="#3467B0"/>
<circle cx="345.20" cy="330.87" r="1.3" fill="#3467B0"/>
<polyline points="266.30,347.30 292.70,342.98 319.20,343.84 345.20,345.57" fill="none" stroke="#3467B0" stroke-width="1.2" stroke-linejoin="round" />
<circle cx="266.30" cy="347.30" r="1.3" fill="#3467B0"/>
<circle cx="292.70" cy="342.98" r="1.3" fill="#3467B0"/>
<circle cx="319.20" cy="343.84" r="1.3" fill="#3467B0"/>
<circle cx="345.20" cy="345.57" r="1.3" fill="#3467B0"/>
<polyline points="266.30,347.30 292.70,347.30 319.20,346.44 345.20,344.70" fill="none" stroke="#3467B0" stroke-width="1.2" stroke-linejoin="round" />
<circle cx="266.30" cy="347.30" r="1.3" fill="#3467B0"/>
<circle cx="292.70" cy="347.30" r="1.3" fill="#3467B0"/>
<circle cx="319.20" cy="346.44" r="1.3" fill="#3467B0"/>
<circle cx="345.20" cy="344.70" r="1.3" fill="#3467B0"/>
<polyline points="266.30,286.75 292.70,347.30" fill="none" stroke="#EE5527" stroke-width="1.2" stroke-linejoin="round" />
<circle cx="266.30" cy="286.75" r="1.2" fill="#EE5527"/>
<circle cx="292.70" cy="347.30" r="1.2" fill="#EE5527"/>
<polyline points="266.30,290.21 292.70,347.30" fill="none" stroke="#EE5527" stroke-width="1.2" stroke-linejoin="round" />
<circle cx="266.30" cy="290.21" r="1.2" fill="#EE5527"/>
<circle cx="292.70" cy="347.30" r="1.2" fill="#EE5527"/>
<polyline points="266.30,292.81 292.70,347.30" fill="none" stroke="#EE5527" stroke-width="1.2" stroke-linejoin="round" />
<circle cx="266.30" cy="292.81" r="1.2" fill="#EE5527"/>
<circle cx="292.70" cy="347.30" r="1.2" fill="#EE5527"/>
<polyline points="266.30,295.40 292.70,347.30" fill="none" stroke="#EE5527" stroke-width="1.2" stroke-linejoin="round" />
<circle cx="266.30" cy="295.40" r="1.2" fill="#EE5527"/>
<circle cx="292.70" cy="347.30" r="1.2" fill="#EE5527"/>
<polyline points="266.30,298.00 292.70,347.30" fill="none" stroke="#EE5527" stroke-width="1.2" stroke-linejoin="round" />
<circle cx="266.30" cy="298.00" r="1.2" fill="#EE5527"/>
<circle cx="292.70" cy="347.30" r="1.2" fill="#EE5527"/>
<polyline points="266.30,299.73 292.70,347.30" fill="none" stroke="#EE5527" stroke-width="1.2" stroke-linejoin="round" />
<circle cx="266.30" cy="299.73" r="1.2" fill="#EE5527"/>
<circle cx="292.70" cy="347.30" r="1.2" fill="#EE5527"/>
<polyline points="266.30,302.32 292.70,347.30" fill="none" stroke="#EE5527" stroke-width="1.2" stroke-linejoin="round" />
<circle cx="266.30" cy="302.32" r="1.2" fill="#EE5527"/>
<circle cx="292.70" cy="347.30" r="1.2" fill="#EE5527"/>
<polyline points="266.30,304.05 292.70,347.30" fill="none" stroke="#EE5527" stroke-width="1.2" stroke-linejoin="round" />
<circle cx="266.30" cy="304.05" r="1.2" fill="#EE5527"/>
<circle cx="292.70" cy="347.30" r="1.2" fill="#EE5527"/>
<polyline points="266.30,306.64 292.70,347.30" fill="none" stroke="#EE5527" stroke-width="1.2" stroke-linejoin="round" />
<circle cx="266.30" cy="306.64" r="1.2" fill="#EE5527"/>
<circle cx="292.70" cy="347.30" r="1.2" fill="#EE5527"/>
<polyline points="266.30,309.24 292.70,347.30" fill="none" stroke="#EE5527" stroke-width="1.2" stroke-linejoin="round" />
<circle cx="266.30" cy="309.24" r="1.2" fill="#EE5527"/>
<circle cx="292.70" cy="347.30" r="1.2" fill="#EE5527"/>
<polyline points="266.30,310.97 292.70,347.30" fill="none" stroke="#EE5527" stroke-width="1.2" stroke-linejoin="round" />
<circle cx="266.30" cy="310.97" r="1.2" fill="#EE5527"/>
<circle cx="292.70" cy="347.30" r="1.2" fill="#EE5527"/>
<polyline points="266.30,314.43 292.70,347.30" fill="none" stroke="#EE5527" stroke-width="1.2" stroke-linejoin="round" />
<circle cx="266.30" cy="314.43" r="1.2" fill="#EE5527"/>
<circle cx="292.70" cy="347.30" r="1.2" fill="#EE5527"/>
<polyline points="266.30,330.00 292.70,347.30" fill="none" stroke="#EE5527" stroke-width="1.2" stroke-linejoin="round" />
<circle cx="266.30" cy="330.00" r="1.2" fill="#EE5527"/>
<circle cx="292.70" cy="347.30" r="1.2" fill="#EE5527"/>
<polyline points="292.70,347.30 319.20,345.57 345.20,342.98" fill="none" stroke="#EE5527" stroke-width="1.4" stroke-linejoin="round" />
<circle cx="292.70" cy="347.30" r="1.2" fill="#EE5527"/>
<circle cx="319.20" cy="345.57" r="1.2" fill="#EE5527"/>
<circle cx="345.20" cy="342.98" r="1.2" fill="#EE5527"/>
<polyline points="292.70,347.30 319.20,346.44 345.20,343.84" fill="none" stroke="#EE5527" stroke-width="1.4" stroke-linejoin="round" />
<circle cx="292.70" cy="347.30" r="1.2" fill="#EE5527"/>
<circle cx="319.20" cy="346.44" r="1.2" fill="#EE5527"/>
<circle cx="345.20" cy="343.84" r="1.2" fill="#EE5527"/>
<polyline points="292.70,347.30 319.20,347.30 345.20,342.11" fill="none" stroke="#EE5527" stroke-width="1.4" stroke-linejoin="round" />
<circle cx="292.70" cy="347.30" r="1.2" fill="#EE5527"/>
<circle cx="319.20" cy="347.30" r="1.2" fill="#EE5527"/>
<circle cx="345.20" cy="342.11" r="1.2" fill="#EE5527"/>
<polyline points="292.70,347.30 319.20,346.78 345.20,344.70" fill="none" stroke="#EE5527" stroke-width="1.4" stroke-linejoin="round" />
<circle cx="292.70" cy="347.30" r="1.2" fill="#EE5527"/>
<circle cx="319.20" cy="346.78" r="1.2" fill="#EE5527"/>
<circle cx="345.20" cy="344.70" r="1.2" fill="#EE5527"/>
<polyline points="292.70,347.30 319.20,347.30 345.20,347.30" fill="none" stroke="#EE5527" stroke-width="1.4" stroke-linejoin="round" />
<circle cx="292.70" cy="347.30" r="1.2" fill="#EE5527"/>
<circle cx="319.20" cy="347.30" r="1.2" fill="#EE5527"/>
<circle cx="345.20" cy="347.30" r="1.2" fill="#EE5527"/>
<text x="268.30" y="354.50" font-size="7.2" font-weight="bold" text-anchor="end" transform="rotate(-45 268.30 354.50)">0</text>
<line x1="266.30" y1="347.30" x2="266.30" y2="349.50" stroke="#000" stroke-width="1" />
<text x="294.70" y="354.50" font-size="7.2" font-weight="bold" text-anchor="end" transform="rotate(-45 294.70 354.50)">46</text>
<line x1="292.70" y1="347.30" x2="292.70" y2="349.50" stroke="#000" stroke-width="1" />
<text x="321.20" y="354.50" font-size="7.2" font-weight="bold" text-anchor="end" transform="rotate(-45 321.20 354.50)">429</text>
<line x1="319.20" y1="347.30" x2="319.20" y2="349.50" stroke="#000" stroke-width="1" />
<text x="347.20" y="354.50" font-size="7.2" font-weight="bold" text-anchor="end" transform="rotate(-45 347.20 354.50)">539</text>
<line x1="345.20" y1="347.30" x2="345.20" y2="349.50" stroke="#000" stroke-width="1" />
<text x="246.30" y="373.80" font-size="6.6" font-weight="bold" fill="#000" textLength="119.20" lengthAdjust="spacingAndGlyphs" >Days from initiation of chemotherapy</text>
<line x1="264.40" y1="267.00" x2="272.00" y2="267.00" stroke="#EE5527" stroke-width="1.2" />
<circle cx="268.20" cy="267.00" r="1.5" fill="#EE5527"/>
<text x="276.00" y="269.50" font-size="6.8" font-weight="bold" fill="#000" textLength="34.60" lengthAdjust="spacingAndGlyphs" >AML Clone</text>
<line x1="264.40" y1="275.20" x2="272.00" y2="275.20" stroke="#3467B0" stroke-width="1.2" />
<circle cx="268.20" cy="275.20" r="1.5" fill="#3467B0"/>
<text x="276.00" y="277.70" font-size="6.8" font-weight="bold" fill="#000" textLength="44.00" lengthAdjust="spacingAndGlyphs" >Rising Clones</text>
<text x="319.70" y="286.50" font-size="6.8" font-weight="bold" fill="#000" textLength="45.70" lengthAdjust="spacingAndGlyphs" >AML RELAPSE</text>
<line x1="345.20" y1="289.00" x2="345.20" y2="302.00" stroke="#000" stroke-width="1.2" />
<polygon points="342.8,300.5 347.6,300.5 345.2,305" fill="#000"/>
<rect x="313.5" y="340.6" width="36.5" height="10.6" fill="none" stroke="#000" stroke-width="1" stroke-dasharray="2.5,1.5"/>
<line x1="350.00" y1="340.60" x2="392.00" y2="245.00" stroke="#000" stroke-width="1" stroke-dasharray="3,2"/>
<line x1="350.00" y1="351.20" x2="407.00" y2="368.50" stroke="#000" stroke-width="1" stroke-dasharray="3,2"/>
<line x1="400.20" y1="266.80" x2="400.20" y2="337.90" stroke="#000" stroke-width="1.2" />
<line x1="399.60" y1="337.30" x2="505.20" y2="337.30" stroke="#000" stroke-width="1.2" />
<line x1="397.70" y1="267.40" x2="400.20" y2="267.40" stroke="#000" stroke-width="1.08" />
<text x="397.50" y="269.94" font-size="6.5" font-weight="bold" fill="#000" text-anchor="end">3</text>
<line x1="397.70" y1="290.70" x2="400.20" y2="290.70" stroke="#000" stroke-width="1.08" />
<text x="397.50" y="293.24" font-size="6.5" font-weight="bold" fill="#000" text-anchor="end">2</text>
<line x1="397.70" y1="314.00" x2="400.20" y2="314.00" stroke="#000" stroke-width="1.08" />
<text x="397.50" y="316.54" font-size="6.5" font-weight="bold" fill="#000" text-anchor="end">1</text>
<line x1="397.70" y1="337.30" x2="400.20" y2="337.30" stroke="#000" stroke-width="1.08" />
<text x="397.50" y="339.84" font-size="6.5" font-weight="bold" fill="#000" text-anchor="end">0</text>
<polyline points="425.80,314.00 479.00,279.05" fill="none" stroke="#EE5527" stroke-width="1.5" stroke-linejoin="round" />
<circle cx="425.80" cy="314.00" r="1.6" fill="#EE5527"/>
<circle cx="479.00" cy="279.05" r="1.6" fill="#EE5527"/>
<polyline points="425.80,337.30 479.00,273.23" fill="none" stroke="#EE5527" stroke-width="1.5" stroke-linejoin="round" />
<circle cx="425.80" cy="337.30" r="1.6" fill="#EE5527"/>
<circle cx="479.00" cy="273.23" r="1.6" fill="#EE5527"/>
<polyline points="425.80,337.30 479.00,280.22" fill="none" stroke="#EE5527" stroke-width="1.5" stroke-linejoin="round" />
<circle cx="425.80" cy="337.30" r="1.6" fill="#EE5527"/>
<circle cx="479.00" cy="280.22" r="1.6" fill="#EE5527"/>
<polyline points="425.80,337.30 479.00,330.31" fill="none" stroke="#EE5527" stroke-width="1.5" stroke-linejoin="round" />
<circle cx="425.80" cy="337.30" r="1.6" fill="#EE5527"/>
<circle cx="479.00" cy="330.31" r="1.6" fill="#EE5527"/>
<polyline points="425.80,337.30 479.00,337.30" fill="none" stroke="#EE5527" stroke-width="1.5" stroke-linejoin="round" />
<circle cx="425.80" cy="337.30" r="1.6" fill="#EE5527"/>
<circle cx="479.00" cy="337.30" r="1.6" fill="#EE5527"/>
<text x="386.70" y="304.45" font-size="7" font-weight="bold" text-anchor="middle" textLength="80.00" lengthAdjust="spacingAndGlyphs" transform="rotate(-90 386.70 302.00)">Variant Allele Frequency</text>
<text x="427.80" y="344.50" font-size="7" font-weight="bold" text-anchor="end" transform="rotate(-45 427.80 344.50)">429</text>
<line x1="425.80" y1="337.30" x2="425.80" y2="339.50" stroke="#000" stroke-width="1" />
<text x="481.00" y="344.50" font-size="7" font-weight="bold" text-anchor="end" transform="rotate(-45 481.00 344.50)">539</text>
<line x1="479.00" y1="337.30" x2="479.00" y2="339.50" stroke="#000" stroke-width="1" />
<text x="392.80" y="363.50" font-size="6.6" font-weight="bold" fill="#000" textLength="120.70" lengthAdjust="spacingAndGlyphs" >Days from initiation of chemotherapy</text>
<text x="0.80" y="395.50" font-size="12" font-weight="bold" fill="#000" textLength="7.10" lengthAdjust="spacingAndGlyphs" >H</text>
<text x="49.00" y="391.60" font-size="6.0" font-weight="bold" fill="#000" text-anchor="middle" textLength="12.00" lengthAdjust="spacingAndGlyphs">AML</text>
<text x="48.80" y="397.30" font-size="6.0" font-weight="bold" fill="#000" text-anchor="middle" textLength="31.50" lengthAdjust="spacingAndGlyphs">DIAGNOSIS</text>
<line x1="33.05" y1="398.20" x2="64.55" y2="398.20" stroke="#000" stroke-width="0.8" />
<text x="100.00" y="391.60" font-size="6.0" font-weight="bold" fill="#000" text-anchor="middle" textLength="16.50" lengthAdjust="spacingAndGlyphs">FIRST</text>
<text x="100.30" y="397.30" font-size="6.0" font-weight="bold" fill="#000" text-anchor="middle" textLength="31.40" lengthAdjust="spacingAndGlyphs">REMISSION</text>
<line x1="84.60" y1="398.20" x2="116.00" y2="398.20" stroke="#000" stroke-width="0.8" />
<text x="139.80" y="391.60" font-size="6.0" font-weight="bold" fill="#000" text-anchor="middle" textLength="11.50" lengthAdjust="spacingAndGlyphs">AML</text>
<text x="139.70" y="397.30" font-size="6.0" font-weight="bold" fill="#000" text-anchor="middle" textLength="26.60" lengthAdjust="spacingAndGlyphs">RELAPSE</text>
<line x1="126.40" y1="398.20" x2="153.00" y2="398.20" stroke="#000" stroke-width="0.8" />
<text x="192.00" y="391.60" font-size="6.0" font-weight="bold" fill="#000" text-anchor="middle" textLength="23.70" lengthAdjust="spacingAndGlyphs">SECOND</text>
<text x="192.60" y="397.30" font-size="6.0" font-weight="bold" fill="#000" text-anchor="middle" textLength="31.00" lengthAdjust="spacingAndGlyphs">REMISSION</text>
<line x1="177.10" y1="398.20" x2="208.10" y2="398.20" stroke="#000" stroke-width="0.8" />
<text x="48.50" y="409.00" font-size="6.0" font-weight="bold" fill="#000" text-anchor="middle" textLength="17.00" lengthAdjust="spacingAndGlyphs">DAY 0</text>
<text x="100.00" y="409.00" font-size="6.0" font-weight="bold" fill="#000" text-anchor="middle" textLength="44.00" lengthAdjust="spacingAndGlyphs">DAY 37; DAY 219</text>
<text x="139.70" y="409.00" font-size="6.0" font-weight="bold" fill="#000" text-anchor="middle" textLength="22.30" lengthAdjust="spacingAndGlyphs">DAY 346</text>
<text x="192.50" y="409.00" font-size="6.0" font-weight="bold" fill="#000" text-anchor="middle" textLength="22.30" lengthAdjust="spacingAndGlyphs">DAY 544</text>
<text x="76.10" y="416.80" font-size="6.0" font-weight="bold" fill="#000" text-anchor="middle" textLength="29.30" lengthAdjust="spacingAndGlyphs">INDUCTION</text>
<text x="76.00" y="422.00" font-size="6.0" font-weight="bold" fill="#000" text-anchor="middle" textLength="44.00" lengthAdjust="spacingAndGlyphs">CHEMOTHERAPY</text>
<text x="165.70" y="416.80" font-size="6.0" font-weight="bold" fill="#000" text-anchor="middle" textLength="23.90" lengthAdjust="spacingAndGlyphs">SALVAGE</text>
<text x="166.00" y="422.00" font-size="6.0" font-weight="bold" fill="#000" text-anchor="middle" textLength="46.00" lengthAdjust="spacingAndGlyphs">CHEMOTHERAPY</text>
<line x1="49.50" y1="411.50" x2="49.50" y2="419.50" stroke="#000" stroke-width="1.5" />
<polygon points="46.60,418.3 52.40,418.3 49.50,423.4" fill="#000"/>
<line x1="102.40" y1="411.50" x2="102.40" y2="419.50" stroke="#000" stroke-width="1.5" />
<polygon points="99.50,418.3 105.30,418.3 102.40,423.4" fill="#000"/>
<line x1="138.50" y1="411.50" x2="138.50" y2="419.50" stroke="#000" stroke-width="1.5" />
<polygon points="135.60,418.3 141.40,418.3 138.50,423.4" fill="#000"/>
<line x1="194.60" y1="411.50" x2="194.60" y2="419.50" stroke="#000" stroke-width="1.5" />
<polygon points="191.70,418.3 197.50,418.3 194.60,423.4" fill="#000"/>
<rect x="5.4" y="424.5" width="200" height="113.8" fill="#fff"/>
<path d="M62.2,537 L63.8,530 C65,512 67,492 70,478 C72,469 74.5,461 78,458 C79,457.2 80.5,457 82,457 L104,457 C106,462 108.5,470 112,478.5 C115,485 120,491 127.5,492.3 L161.3,492.3 C163,485 165,472 168,459 C170,450 173,443 178,439.2 C179,438.8 180,438.6 181,438.6 L205.5,438.6 L205.5,537 Z" fill="#00D6FE" stroke="#000" stroke-width="1.5"/>
<rect x="5.5" y="535.3" width="200" height="2" fill="#00D6FE" stroke="none"/>
<line x1="5.50" y1="534.90" x2="62.50" y2="534.90" stroke="#000" stroke-width="1" />
<path d="M5,479 L14.7,479 C15,468 16.5,455 21,446 C25,437 32,429 41.5,425 L178,425 C173,429 168,437 165,447 C162.5,456 160,470 158.5,479 C158,481.5 157.5,482.4 157,482.4 L131.7,482.4 C126,481 121,476 118.5,466 C116,458 114.5,445 114,430.8 L86.5,430.8 C83,432.5 81,436 79.4,440 C76,448 71,465 68.4,476.8 C66,488 63.5,503 62.5,513.5 L61.4,530.5 L32,530.5 C27,528 23.5,521 21,513 C18.5,505 16,494 14.7,482.3 L5,482.3 Z" fill="#FD8A80" stroke="#000" stroke-width="1.5"/>
<path d="M26,480.6 C28,472 32,463 36.3,458 C40,452.5 44,447 50,445 L65.8,445 C62,451 57,463 54.5,472 C52,481 50,488 49.3,492.3 L33.7,492.3 C30,490 27.5,486 26,480.6 Z" fill="#88F47A" stroke="#000" stroke-width="1.5"/>
<line x1="65.80" y1="445.00" x2="78.20" y2="445.00" stroke="#000" stroke-width="1.4" />
<line x1="14.70" y1="480.70" x2="26.00" y2="480.70" stroke="#000" stroke-width="1.4" />
<text x="40.10" y="469.40" font-size="6.0" font-weight="bold" fill="#000" text-anchor="middle" textLength="11.60" lengthAdjust="spacingAndGlyphs">AML</text>
<text x="40.10" y="475.40" font-size="6.0" font-weight="bold" fill="#000" text-anchor="middle" textLength="12.70" lengthAdjust="spacingAndGlyphs">SUB-</text>
<text x="40.20" y="481.00" font-size="6.0" font-weight="bold" fill="#000" text-anchor="middle" textLength="19.30" lengthAdjust="spacingAndGlyphs">CLONE</text>
<line x1="30.55" y1="481.90" x2="49.85" y2="481.90" stroke="#000" stroke-width="0.8" />
<text x="40.80" y="504.70" font-size="6.0" font-weight="bold" fill="#000" text-anchor="middle" textLength="10.50" lengthAdjust="spacingAndGlyphs">AML</text>
<text x="41.30" y="510.40" font-size="6.0" font-weight="bold" fill="#000" text-anchor="middle" textLength="30.00" lengthAdjust="spacingAndGlyphs">FOUNDING</text>
<text x="41.30" y="516.20" font-size="6.0" font-weight="bold" fill="#000" text-anchor="middle" textLength="19.30" lengthAdjust="spacingAndGlyphs">CLONE</text>
<line x1="31.65" y1="517.10" x2="50.95" y2="517.10" stroke="#000" stroke-width="0.8" />
<text x="136.20" y="507.00" font-size="6.0" font-weight="bold" fill="#0c2640" text-anchor="middle" textLength="40.00" lengthAdjust="spacingAndGlyphs">RISING CLONE</text>
<line x1="116.20" y1="507.90" x2="156.20" y2="507.90" stroke="#0c2640" stroke-width="0.8" />
<text x="135.70" y="514.00" font-size="6.0" font-weight="bold" font-style="italic" fill="#0c2640" text-anchor="middle" textLength="37.40" lengthAdjust="spacingAndGlyphs">ZNF318 R1185*</text>
<rect x="5.5" y="424.5" width="200" height="113.9" fill="none" stroke="#000" stroke-width="2.4"/>
<text x="254.00" y="395.90" font-size="12.5" font-weight="bold" fill="#000" textLength="2.40" lengthAdjust="spacingAndGlyphs" >I</text>
<rect x="286.6" y="390.6" width="61.4" height="58.4" fill="none" stroke="#000" stroke-width="1.3"/>
<text x="285.50" y="393.30" font-size="4.6" font-weight="bold" text-anchor="end">10<tspan font-size="3.6799999999999997" dy="-3.2">4</tspan></text>
<text x="285.50" y="421.50" font-size="4.6" font-weight="bold" text-anchor="end">10<tspan font-size="3.6799999999999997" dy="-3.2">2</tspan></text>
<text x="285.50" y="447.00" font-size="4.6" font-weight="bold" text-anchor="end"><tspan font-size="3.6799999999999997" dy="-3.2">0</tspan></text>
<text x="284.50" y="451.50" font-size="4.6" font-weight="bold" text-anchor="end">10<tspan font-size="3.6799999999999997" dy="-3.2"></tspan></text>
<line x1="285.30" y1="390.60" x2="286.60" y2="390.60" stroke="#000" stroke-width="0.8" />
<line x1="285.30" y1="405.00" x2="286.60" y2="405.00" stroke="#000" stroke-width="0.8" />
<line x1="285.30" y1="419.20" x2="286.60" y2="419.20" stroke="#000" stroke-width="0.8" />
<line x1="285.30" y1="432.00" x2="286.60" y2="432.00" stroke="#000" stroke-width="0.8" />
<line x1="285.30" y1="444.60" x2="286.60" y2="444.60" stroke="#000" stroke-width="0.8" />
<text x="273.80" y="422.52" font-size="7.2" font-weight="bold" text-anchor="middle" textLength="13.00" lengthAdjust="spacingAndGlyphs" transform="rotate(-90 273.80 420.00)">CD45</text>
<g fill="none" stroke-width="0.7">
<ellipse cx="312" cy="432.4" rx="11.6" ry="5.3" fill="#b0b0b0" stroke="#555"/>
<ellipse cx="312.5" cy="432.6" rx="9.2" ry="3.9" fill="#c8c8c8" stroke="#666"/>
<ellipse cx="313" cy="432.8" rx="6.5" ry="2.5" fill="#9a9a9a" stroke="#777"/>
<path d="M294.5,414.5 C300,419 304.5,424 306.5,428 M293,421.5 C297.5,425 300.5,428 302,430 M295.5,416.5 C300.5,421 303.5,424.5 305,428.5 M294,419 C299,423 302,426 303.5,429" stroke="#777"/>
<ellipse cx="292.3" cy="419.4" rx="3.8" ry="5.9" transform="rotate(-15 292.3 419.4)" fill="#333" stroke="#000" stroke-width="1.1"/>
<ellipse cx="292.5" cy="419.6" rx="1.9" ry="3.4" transform="rotate(-15 292.5 419.6)" fill="#777" stroke="#222"/>
<ellipse cx="290.8" cy="438.6" rx="2.6" ry="6.3" fill="#666" stroke="#333"/>
<ellipse cx="290.9" cy="438.8" rx="1.2" ry="3.2" fill="#aaa" stroke="#444"/>
</g>
<rect x="287.8" y="430.4" width="7.9" height="16.2" fill="none" stroke="#000" stroke-width="1"/>
<text x="300.00" y="447.00" font-size="7.2" font-weight="bold" fill="#000" textLength="32.60" lengthAdjust="spacingAndGlyphs" >Blast Gate</text>
<text x="287" y="456" font-size="4.8" font-weight="bold" text-anchor="middle">0</text>
<text x="318.3" y="456" font-size="4.8" font-weight="bold" text-anchor="middle">2.0K</text>
<text x="345.5" y="456" font-size="4.8" font-weight="bold" text-anchor="middle">4.0K</text>
<text x="300.00" y="463.80" font-size="7.3" font-weight="bold" fill="#000" textLength="38.00" lengthAdjust="spacingAndGlyphs" >Side Scatter</text>
<polygon points="348.8,418.8 366,418.8 366,414 375.2,423.2 366,432.4 366,427.6 348.8,427.6" fill="#000"/>
<rect x="394" y="390.6" width="61" height="58.9" fill="none" stroke="#000" stroke-width="1.3"/>
<text x="393.20" y="393.30" font-size="4.6" font-weight="bold" text-anchor="end">10<tspan font-size="3.6799999999999997" dy="-3.2">4</tspan></text>
<text x="393.20" y="421.50" font-size="4.6" font-weight="bold" text-anchor="end">10<tspan font-size="3.6799999999999997" dy="-3.2">2</tspan></text>
<text x="393.20" y="451.00" font-size="4.6" font-weight="bold" text-anchor="end">10<tspan font-size="3.6799999999999997" dy="-3.2">0</tspan></text>
<text x="380.80" y="421.52" font-size="7.2" font-weight="bold" text-anchor="middle" textLength="17.00" lengthAdjust="spacingAndGlyphs" transform="rotate(-90 380.80 419.00)">CD45</text>
<g stroke-width="0.7">
<defs><linearGradient id="gb" x1="0" y1="0" x2="1" y2="0"><stop offset="0" stop-color="#3c3c3c"/><stop offset="0.45" stop-color="#6e6e6e"/><stop offset="1" stop-color="#c4c4c4"/></linearGradient></defs>
<path d="M396.5,440 C396,434 402,430.5 410,430.5 C418,430.5 426,431 430.5,433 C431,435 425,437.5 418,439.5 C410,442.5 404,446 399.5,445 C397.5,444 396.7,442 396.5,440 Z" fill="url(#gb)" stroke="#444" stroke-width="0.6"/>
<path d="M399,439.5 C399,435 404,433 410,433 C416,433 422,433.5 426,434.5 C422,436.5 416,438 411,439.5 C406,441.5 402,443 400,442 Z" fill="none" stroke="#222" stroke-width="0.5"/>
<path d="M401.5,439 C402,436.5 405,435.5 409,435.5 C413,435.5 416,436 418,436.5 C415,437.5 411,438.5 408,439.5 C405,440.5 402,440.5 401.5,439 Z" fill="#555" stroke="#111" stroke-width="0.5"/>
<ellipse cx="406" cy="437.6" rx="2" ry="0.9" fill="#ddd"/>
</g>
<rect x="416.2" y="428.2" width="16.8" height="21.3" fill="none" stroke="#000" stroke-width="1"/>
<text x="405.00" y="427.20" font-size="7.2" font-weight="bold" fill="#000" textLength="44.50" lengthAdjust="spacingAndGlyphs" >CD34 Positive</text>
<text x="396.00" y="455.50" font-size="4.6" font-weight="bold" text-anchor="end">10<tspan font-size="3.6799999999999997" dy="-3.2">0</tspan></text>
<text x="422.00" y="455.50" font-size="4.6" font-weight="bold" text-anchor="end">10<tspan font-size="3.6799999999999997" dy="-3.2">2</tspan></text>
<text x="459.00" y="455.50" font-size="4.6" font-weight="bold" text-anchor="end">10<tspan font-size="3.6799999999999997" dy="-3.2">4</tspan></text>
<text x="417.50" y="464.60" font-size="7.3" font-weight="bold" fill="#000" textLength="16.50" lengthAdjust="spacingAndGlyphs" >CD34</text>
<text x="250.20" y="477.50" font-size="12.5" font-weight="bold" fill="#000" textLength="6.00" lengthAdjust="spacingAndGlyphs" >J</text>
<rect x="288.9" y="469.9" width="52.3" height="57.4" fill="#f8f1f4" stroke="#000" stroke-width="1.3"/>
<line x1="309.30" y1="469.90" x2="309.30" y2="527.30" stroke="#000" stroke-width="1.6" />
<line x1="288.90" y1="497.80" x2="309.30" y2="497.80" stroke="#000" stroke-width="1.4" />
<line x1="288.90" y1="469.50" x2="288.90" y2="530.40" stroke="#000" stroke-width="1.3" />
<line x1="288.30" y1="527.30" x2="343.00" y2="527.30" stroke="#000" stroke-width="1.4" />
<line x1="343.00" y1="527.30" x2="343.00" y2="530.60" stroke="#000" stroke-width="1.1" />
<line x1="284.50" y1="470.00" x2="288.90" y2="470.00" stroke="#000" stroke-width="1.1" />
<path d="M298,511.5 L303,505.8 L309.8,506.5 L309.8,510 L302,511 Z" fill="#555"/>
<path d="M298.5,511.8 L301,507.5 L304,507 Z" fill="#111"/>
<path d="M309.8,505.6 L318,505.2 L326,505.4 L332,504.2 L336.5,502.8 L339.5,503.6 L341,507.5 L336,509.6 L328,510.4 L320,510.9 L312,511 L309.8,510.6 Z" fill="#5b8fd2"/>
<path d="M309.8,506.3 L318,506 L326,506.2 L333,505.2 L336.5,504.2 L339.5,505 L340.2,507.5 L336,508.8 L328,509.4 L320,509.9 L312,510 L309.8,509.8 Z" fill="#2a66ba"/>
<path d="M311,507.5 L325,507.3 L336,506.5 L338,507.5 L326,508.6 L311,508.8 Z" fill="#1d4f9a"/>
<circle cx="303" cy="483" r="0.5" fill="#d9a8b5"/>
<circle cx="302" cy="488" r="0.5" fill="#d9a8b5"/>
<circle cx="302.5" cy="493" r="0.5" fill="#d9a8b5"/>
<circle cx="328" cy="491" r="0.5" fill="#d9a8b5"/>
<circle cx="332" cy="498" r="0.5" fill="#d9a8b5"/>
<circle cx="303.5" cy="478" r="0.5" fill="#d9a8b5"/>
<text x="292.80" y="477.80" font-size="5.8" font-weight="bold" fill="#000" textLength="2.70" lengthAdjust="spacingAndGlyphs" >7</text>
<text x="326.50" y="477.80" font-size="5.8" font-weight="bold" fill="#000" textLength="14.10" lengthAdjust="spacingAndGlyphs" >3 218</text>
<text x="289.80" y="523.40" font-size="5.8" font-weight="bold" fill="#000" textLength="18.70" lengthAdjust="spacingAndGlyphs" >105 761</text>
<text x="270.20" y="471.30" font-size="4.8" font-weight="bold" fill="#000" textLength="13.60" lengthAdjust="spacingAndGlyphs" >6 000</text>
<text x="283.00" y="533.50" font-size="5" font-weight="bold" fill="#000" textLength="2.40" lengthAdjust="spacingAndGlyphs" >0</text>
<text x="336.00" y="537.20" font-size="4.8" font-weight="bold" fill="#000" textLength="14.00" lengthAdjust="spacingAndGlyphs" >8 000</text>
<text x="0" y="0" font-size="7" font-weight="bold" text-anchor="middle" textLength="30.5" lengthAdjust="spacingAndGlyphs" transform="translate(277.2 499) rotate(-90)"><tspan font-style="italic">TP53</tspan> e4-1</text>
<text x="280.90" y="500.20" font-size="7" font-weight="bold" text-anchor="middle" textLength="41.50" lengthAdjust="spacingAndGlyphs" transform="rotate(-90 280.90 497.75)">Signal (A.U.)</text>
<text x="301.50" y="535.80" font-size="7" font-weight="bold" fill="#000" textLength="29.30" lengthAdjust="spacingAndGlyphs" >Wild-type</text>
<text x="297.00" y="541.90" font-size="7" font-weight="bold" fill="#000" textLength="38.40" lengthAdjust="spacingAndGlyphs" >Signal (A.U.)</text>
</svg></body></html>
